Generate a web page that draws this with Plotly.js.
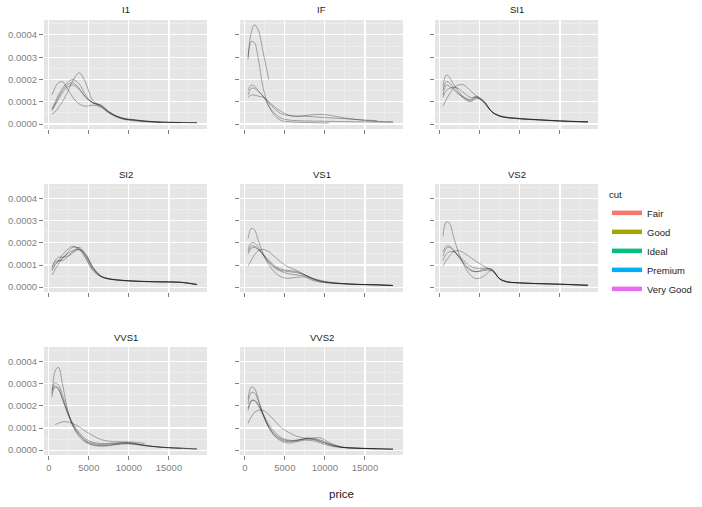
<!DOCTYPE html>
<html><head><meta charset="utf-8">
<script src="https://cdn.plot.ly/plotly-3.0.1.min.js"></script>
<style>html,body{margin:0;padding:0;background:#fff}</style>
</head><body><div id="chart" style="width:702px;height:507px"></div>
<script>
const clarity = ['I1','IF','SI1','SI2','VS1','VS2','VVS1','VVS2'];
const cuts = ['Fair','Good','Ideal','Premium','Very Good'];
const cutColors = ['#F8766D','#A3A500','#00BF7D','#00B0F6','#E76BF3'];
const priceGrid = [400,800,1200,1700,2300,3000,3800,4600,5500,6500,7500,8500,9500,10500,12000,14000,16500,18500];
const xTicks = [0,5000,10000,15000];
const xMinor = [2500,7500,12500,17500];
const yTicks = [0,0.0001,0.0002,0.0003,0.0004];
const yMinor = [0.00005,0.00015,0.00025,0.00035,0.00045];

// density per cut (Fair, Good, Ideal, Premium, Very Good) at priceGrid
const dens_I1 = [
 [1.3e-4,1.65e-4,1.85e-4,1.9e-4,1.6e-4,1.2e-4,0.9e-4,0.8e-4,0.85e-4,0.75e-4,0.5e-4,0.35e-4,0.25e-4,0.2e-4,0.13e-4,0.09e-4,0.07e-4,0.06e-4],
 [0.6e-4,0.85e-4,1.1e-4,1.4e-4,1.65e-4,1.75e-4,1.55e-4,1.2e-4,0.95e-4,0.8e-4,0.5e-4,0.3e-4,0.2e-4,0.15e-4,0.1e-4,0.07e-4,null,null],
 [0.45e-4,0.55e-4,0.75e-4,1.0e-4,1.4e-4,1.95e-4,2.3e-4,1.85e-4,1.05e-4,0.8e-4,0.55e-4,0.35e-4,0.22e-4,0.18e-4,0.13e-4,0.08e-4,0.07e-4,0.06e-4],
 [0.7e-4,1.0e-4,1.3e-4,1.6e-4,1.85e-4,2.0e-4,1.8e-4,1.3e-4,0.95e-4,0.85e-4,0.55e-4,0.35e-4,0.23e-4,0.2e-4,0.14e-4,0.09e-4,0.07e-4,0.06e-4],
 [0.65e-4,0.9e-4,1.2e-4,1.5e-4,1.75e-4,1.85e-4,1.6e-4,1.2e-4,0.95e-4,0.85e-4,0.55e-4,0.33e-4,0.22e-4,0.18e-4,0.12e-4,0.08e-4,0.06e-4,null]
];
const dens_IF = [
 [3.0e-4,4.1e-4,4.45e-4,4.2e-4,3.2e-4,2.0e-4,null,null,null,null,null,null,null,null,null,null,null,null],
 [2.9e-4,3.7e-4,3.65e-4,2.9e-4,1.6e-4,0.8e-4,0.35e-4,0.15e-4,0.1e-4,0.08e-4,0.07e-4,0.06e-4,0.05e-4,0.05e-4,null,null,null,null],
 [1.5e-4,1.75e-4,1.7e-4,1.5e-4,1.25e-4,0.8e-4,0.45e-4,0.25e-4,0.18e-4,0.15e-4,0.14e-4,0.13e-4,0.13e-4,0.12e-4,0.11e-4,0.1e-4,0.09e-4,0.08e-4],
 [1.2e-4,1.3e-4,1.3e-4,1.25e-4,1.2e-4,1.0e-4,0.75e-4,0.55e-4,0.4e-4,0.35e-4,0.38e-4,0.42e-4,0.43e-4,0.4e-4,0.3e-4,0.2e-4,0.12e-4,0.1e-4],
 [1.3e-4,1.6e-4,1.6e-4,1.45e-4,1.25e-4,0.95e-4,0.65e-4,0.45e-4,0.38e-4,0.35e-4,0.35e-4,0.33e-4,0.3e-4,0.28e-4,0.25e-4,0.2e-4,0.15e-4,null]
];
const dens_SI1 = [
 [0.8e-4,1.1e-4,1.35e-4,1.6e-4,1.75e-4,1.75e-4,1.5e-4,1.25e-4,0.95e-4,0.55e-4,0.38e-4,0.3e-4,0.27e-4,0.24e-4,0.2e-4,0.16e-4,0.12e-4,0.1e-4],
 [1.5e-4,1.9e-4,1.85e-4,1.65e-4,1.4e-4,1.15e-4,1.0e-4,1.15e-4,1.0e-4,0.55e-4,0.35e-4,0.28e-4,0.25e-4,0.22e-4,0.19e-4,0.15e-4,0.11e-4,0.09e-4],
 [1.7e-4,2.2e-4,2.1e-4,1.8e-4,1.5e-4,1.2e-4,1.05e-4,1.2e-4,1.05e-4,0.55e-4,0.35e-4,0.28e-4,0.25e-4,0.22e-4,0.2e-4,0.16e-4,0.12e-4,0.1e-4],
 [1.2e-4,1.5e-4,1.6e-4,1.65e-4,1.6e-4,1.4e-4,1.2e-4,1.2e-4,1.0e-4,0.55e-4,0.36e-4,0.29e-4,0.26e-4,0.23e-4,0.2e-4,0.16e-4,0.12e-4,0.1e-4],
 [1.3e-4,1.75e-4,1.7e-4,1.55e-4,1.35e-4,1.2e-4,1.1e-4,1.25e-4,1.0e-4,0.55e-4,0.35e-4,0.28e-4,0.25e-4,0.22e-4,0.19e-4,0.15e-4,0.11e-4,0.09e-4]
];
const dens_SI2 = [
 [0.9e-4,1.2e-4,1.35e-4,1.35e-4,1.4e-4,1.6e-4,1.8e-4,1.45e-4,0.85e-4,0.5e-4,0.38e-4,0.33e-4,0.3e-4,0.28e-4,0.25e-4,0.24e-4,0.22e-4,0.12e-4],
 [0.8e-4,1.05e-4,1.15e-4,1.3e-4,1.55e-4,1.8e-4,1.75e-4,1.35e-4,0.8e-4,0.48e-4,0.37e-4,0.32e-4,0.29e-4,0.27e-4,0.25e-4,0.24e-4,0.22e-4,0.12e-4],
 [0.55e-4,0.8e-4,1.05e-4,1.3e-4,1.5e-4,1.65e-4,1.7e-4,1.45e-4,0.9e-4,0.5e-4,0.37e-4,0.32e-4,0.29e-4,0.27e-4,0.25e-4,0.23e-4,0.21e-4,0.11e-4],
 [0.95e-4,1.15e-4,1.2e-4,1.2e-4,1.35e-4,1.55e-4,1.7e-4,1.5e-4,0.9e-4,0.5e-4,0.38e-4,0.33e-4,0.3e-4,0.28e-4,0.26e-4,0.24e-4,0.22e-4,0.12e-4],
 [0.75e-4,1.0e-4,1.2e-4,1.45e-4,1.7e-4,1.85e-4,1.7e-4,1.3e-4,0.75e-4,0.47e-4,0.36e-4,0.32e-4,0.29e-4,0.27e-4,0.25e-4,0.23e-4,0.21e-4,0.11e-4]
];
const dens_VS1 = [
 [0.95e-4,1.2e-4,1.45e-4,1.65e-4,1.7e-4,1.6e-4,1.35e-4,1.1e-4,0.9e-4,0.75e-4,0.55e-4,0.4e-4,0.3e-4,0.23e-4,0.17e-4,0.13e-4,0.1e-4,0.08e-4],
 [1.7e-4,2.0e-4,2.0e-4,1.8e-4,1.45e-4,1.1e-4,0.85e-4,0.7e-4,0.6e-4,0.55e-4,0.5e-4,0.35e-4,0.25e-4,0.2e-4,0.16e-4,0.12e-4,0.1e-4,0.07e-4],
 [2.2e-4,2.65e-4,2.6e-4,2.1e-4,1.5e-4,1.0e-4,0.65e-4,0.45e-4,0.4e-4,0.45e-4,0.45e-4,0.3e-4,0.22e-4,0.18e-4,0.15e-4,0.12e-4,0.1e-4,0.07e-4],
 [1.5e-4,1.75e-4,1.8e-4,1.7e-4,1.5e-4,1.2e-4,0.95e-4,0.8e-4,0.75e-4,0.7e-4,0.55e-4,0.38e-4,0.27e-4,0.21e-4,0.16e-4,0.12e-4,0.1e-4,0.07e-4],
 [1.6e-4,1.85e-4,1.85e-4,1.7e-4,1.45e-4,1.15e-4,0.9e-4,0.75e-4,0.7e-4,0.65e-4,0.55e-4,0.38e-4,0.26e-4,0.2e-4,0.16e-4,0.12e-4,0.1e-4,0.07e-4]
];
const dens_VS2 = [
 [0.95e-4,1.2e-4,1.4e-4,1.6e-4,1.65e-4,1.55e-4,1.35e-4,1.15e-4,0.95e-4,0.75e-4,0.38e-4,0.24e-4,0.2e-4,0.18e-4,0.16e-4,0.14e-4,0.11e-4,0.08e-4],
 [1.6e-4,1.85e-4,1.85e-4,1.7e-4,1.4e-4,1.05e-4,0.75e-4,0.7e-4,0.8e-4,0.8e-4,0.37e-4,0.23e-4,0.2e-4,0.18e-4,0.16e-4,0.14e-4,0.11e-4,0.08e-4],
 [2.3e-4,2.95e-4,2.9e-4,2.3e-4,1.6e-4,1.0e-4,0.55e-4,0.38e-4,0.5e-4,0.75e-4,0.35e-4,0.22e-4,0.2e-4,0.18e-4,0.16e-4,0.14e-4,0.11e-4,0.08e-4],
 [1.2e-4,1.5e-4,1.6e-4,1.6e-4,1.45e-4,1.2e-4,0.95e-4,0.85e-4,0.85e-4,0.8e-4,0.37e-4,0.23e-4,0.2e-4,0.18e-4,0.16e-4,0.14e-4,0.11e-4,0.08e-4],
 [1.4e-4,1.75e-4,1.8e-4,1.65e-4,1.4e-4,1.1e-4,0.8e-4,0.7e-4,0.75e-4,0.75e-4,0.36e-4,0.23e-4,0.2e-4,0.18e-4,0.16e-4,0.14e-4,0.11e-4,0.08e-4]
];
const dens_VVS1 = [
 [null,1.15e-4,1.22e-4,1.28e-4,1.28e-4,1.2e-4,1.05e-4,0.85e-4,0.65e-4,0.48e-4,0.4e-4,0.38e-4,0.37e-4,0.36e-4,0.3e-4,null,null,null],
 [2.55e-4,2.85e-4,2.75e-4,2.3e-4,1.75e-4,1.2e-4,0.8e-4,0.5e-4,0.35e-4,0.3e-4,0.3e-4,0.32e-4,0.35e-4,0.32e-4,0.22e-4,0.13e-4,0.08e-4,null],
 [2.4e-4,3.6e-4,3.75e-4,3.0e-4,1.9e-4,1.1e-4,0.6e-4,0.35e-4,0.22e-4,0.18e-4,0.2e-4,0.25e-4,0.28e-4,0.27e-4,0.2e-4,0.13e-4,0.08e-4,0.05e-4],
 [2.7e-4,2.9e-4,2.8e-4,2.35e-4,1.7e-4,1.1e-4,0.7e-4,0.42e-4,0.3e-4,0.25e-4,0.27e-4,0.3e-4,0.32e-4,0.3e-4,0.21e-4,0.13e-4,0.08e-4,0.05e-4],
 [2.75e-4,3.05e-4,2.95e-4,2.5e-4,1.8e-4,1.15e-4,0.7e-4,0.4e-4,0.25e-4,0.2e-4,0.22e-4,0.27e-4,0.3e-4,0.28e-4,0.2e-4,0.13e-4,0.09e-4,0.05e-4]
];
const dens_VVS2 = [
 [1.2e-4,1.5e-4,1.7e-4,1.8e-4,1.8e-4,1.6e-4,1.3e-4,1.0e-4,0.8e-4,0.62e-4,0.55e-4,0.55e-4,0.55e-4,0.35e-4,0.15e-4,0.1e-4,0.06e-4,null],
 [1.8e-4,2.2e-4,2.25e-4,2.05e-4,1.65e-4,1.15e-4,0.8e-4,0.55e-4,0.45e-4,0.45e-4,0.5e-4,0.52e-4,0.45e-4,0.3e-4,0.14e-4,0.08e-4,0.06e-4,0.04e-4],
 [2.3e-4,2.85e-4,2.8e-4,2.3e-4,1.6e-4,1.0e-4,0.6e-4,0.4e-4,0.32e-4,0.38e-4,0.45e-4,0.42e-4,0.32e-4,0.2e-4,0.12e-4,0.08e-4,0.06e-4,0.04e-4],
 [1.9e-4,2.25e-4,2.25e-4,2.0e-4,1.55e-4,1.05e-4,0.7e-4,0.5e-4,0.42e-4,0.45e-4,0.52e-4,0.5e-4,0.4e-4,0.26e-4,0.13e-4,0.08e-4,0.06e-4,0.04e-4],
 [2.1e-4,2.6e-4,2.6e-4,2.2e-4,1.6e-4,1.05e-4,0.65e-4,0.45e-4,0.38e-4,0.42e-4,0.5e-4,0.48e-4,0.38e-4,0.25e-4,0.13e-4,0.08e-4,0.06e-4,0.04e-4]
];
const panels = [dens_I1, dens_IF, dens_SI1, dens_SI2, dens_VS1, dens_VS2, dens_VVS1, dens_VVS2];

// layout geometry (pixels)
const W = 702, H = 507;
const colPx = [[44,207],[240,403],[435,598]];
const rowPx = [[20,129],[184,292],[347,455]];
const xRange = [-600, 19750];
const yRange = [-0.0000223, 0.000467];

const traces = [];
const layout = {
  width: W, height: H, margin: {l:0,r:0,t:0,b:0},
  paper_bgcolor: '#ffffff', plot_bgcolor: '#E5E5E5',
  font: {family: 'Liberation Sans, Arial, sans-serif', size: 9.5, color: '#7F7F7F'},
  showlegend: true,
  legend: {x: 607/W, xanchor: 'left', y: 1-186/H, yanchor: 'top',
    title: {text: 'cut', font: {size: 9.5, color: '#1A1A1A'}},
    font: {size: 9.5, color: '#1A1A1A'}, bgcolor: 'rgba(0,0,0,0)', tracegroupgap: 0, itemwidth: 30},
  annotations: [], hovermode: false
};

panels.forEach((dens, i) => {
  const r = Math.floor(i/3), c = i%3;
  const sfx = i === 0 ? '' : String(i+1);
  dens.forEach((ys, k) => {
    traces.push({x: priceGrid, y: ys, type: 'scatter', mode: 'lines',
      xaxis: 'x'+sfx, yaxis: 'y'+sfx, name: cuts[k], showlegend: false,
      line: {color: 'rgba(0,0,0,0.35)', width: 0.9, shape: 'spline', smoothing: 1}, connectgaps: false});
  });
  const bottomRow = (i >= 6);
  layout['xaxis'+sfx] = {
    domain: [colPx[c][0]/W, colPx[c][1]/W], range: xRange, anchor: 'y'+sfx,
    tickmode: 'array', tickvals: xTicks, tickformat: 'd', showticklabels: bottomRow,
    ticks: 'outside', ticklen: 4, tickcolor: '#7F7F7F', tickwidth: 1,
    showgrid: true, gridcolor: '#FFFFFF', gridwidth: 1.1, zeroline: false, showline: false,
    minor: {tickmode: 'array', tickvals: xMinor, showgrid: true, gridcolor: '#F2F2F2', gridwidth: 0.6, ticks: ''},
    tickfont: {size: 9.5, color: '#7F7F7F'}, fixedrange: true
  };
  layout['yaxis'+sfx] = {
    domain: [1-rowPx[r][1]/H, 1-rowPx[r][0]/H], range: yRange, anchor: 'x'+sfx,
    tickmode: 'array', tickvals: yTicks, tickformat: '.4f', showticklabels: c === 0,
    ticks: 'outside', ticklen: 4, tickcolor: '#7F7F7F', tickwidth: 1,
    showgrid: true, gridcolor: '#FFFFFF', gridwidth: 1.1, zeroline: false, showline: false,
    minor: {tickmode: 'array', tickvals: yMinor, showgrid: true, gridcolor: '#F2F2F2', gridwidth: 0.6, ticks: ''},
    tickfont: {size: 9.5, color: '#7F7F7F'}, fixedrange: true
  };
  layout.annotations.push({text: clarity[i], xref: 'paper', yref: 'paper',
    x: (colPx[c][0]+colPx[c][1])/2/W, y: 1-(rowPx[r][0]-10)/H, xanchor: 'center', yanchor: 'middle',
    showarrow: false, font: {size: 9.5, color: '#1A1A1A'}});
});

cuts.forEach((cut, k) => {
  traces.push({x: [null], y: [null], type: 'scatter', mode: 'lines', name: cut,
    xaxis: 'x', yaxis: 'y', showlegend: true, line: {color: cutColors[k], width: 4.5}});
});

layout.annotations.push({text: 'price', xref: 'paper', yref: 'paper', x: 341/W, y: 1-494/H,
  xanchor: 'center', yanchor: 'middle', showarrow: false, font: {size: 11.5, color: '#1A1A1A'}});

Plotly.newPlot('chart', traces, layout, {displayModeBar: false, staticPlot: true});
</script></body></html>
